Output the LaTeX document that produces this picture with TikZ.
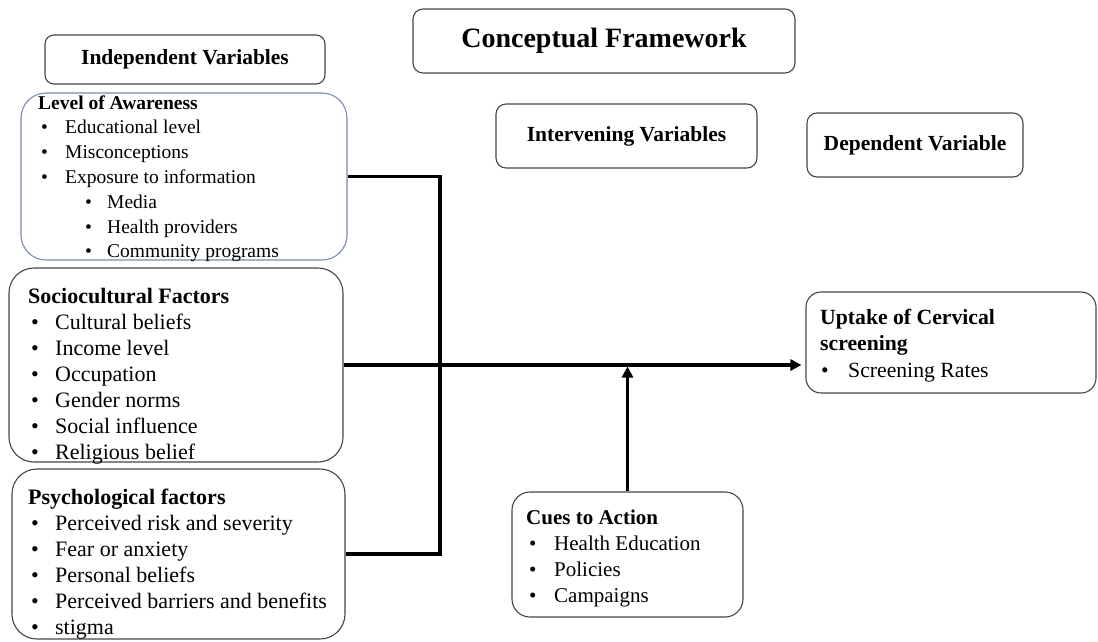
\documentclass[tikz,border=0pt]{standalone}
\usepackage{fontspec}
\setmainfont{Liberation Serif}
\usetikzlibrary{arrows.meta}
\definecolor{boxline}{RGB}{70,70,70}
\definecolor{blueline}{RGB}{120,140,172}
\newcommand{\bul}[2]{\hspace*{#1}\makebox[#2][l]{\textbullet}}
\begin{document}
\begin{tikzpicture}[x=1pt,y=-1pt,
  box/.style={draw=boxline, line width=1.1pt, inner sep=0pt},
  hd/.style={font=\fontsize{21.5}{26}\selectfont\bfseries},
  conn/.style={line width=3.5pt},
  tip/.style={-{Triangle[length=11pt,width=11pt]}},
  lst/.style={anchor=base west, inner sep=0pt}]
\useasboundingbox (0,0) rectangle (1098,641);
\fill[white] (0,0) rectangle (1098,641);

% header boxes
\node[box, rounded corners=10pt, minimum width=382pt, minimum height=64pt,
      font=\fontsize{28}{32}\selectfont\bfseries] (cf) at (604,41) {Conceptual Framework};
\node[box, hd, rounded corners=9pt, minimum width=280pt, minimum height=49pt] (iv) at (185,59.5) {Independent Variables};
\node[box, hd, rounded corners=10pt, minimum width=261pt, minimum height=64pt] (inv) at (626.5,136) {Intervening Variables};
\node[box, hd, rounded corners=10pt, minimum width=216pt, minimum height=64pt] (dv) at (915,145) {Dependent Variable};

% content boxes
\node[box, draw=blueline, rounded corners=25pt, minimum width=326pt, minimum height=167pt] (lev) at (184,176.5) {};
\node[box, rounded corners=25pt, minimum width=334pt, minimum height=194pt] (soc) at (176,365) {};
\node[box, rounded corners=25pt, minimum width=333pt, minimum height=170pt] (psy) at (178.5,554) {};
\node[box, rounded corners=15pt, minimum width=290pt, minimum height=101pt] (upt) at (951,342.5) {};
\node[box, rounded corners=18pt, minimum width=231pt, minimum height=125pt] (cue) at (627.5,554.5) {};

% texts
\node[lst] (levt) at (38,109) {\fontsize{19.5}{24.8}\selectfont\begin{tabular}[t]{@{}l@{}}
\textbf{Level of Awareness}\\
\bul{3pt}{24pt}Educational level\\
\bul{3pt}{24pt}Misconceptions\\
\bul{3pt}{24pt}Exposure to information\\
\bul{47pt}{22pt}Media\\
\bul{47pt}{22pt}Health providers\\
\bul{47pt}{22pt}Community programs
\end{tabular}};

\node[lst] (soct) at (28,303) {\fontsize{22}{26}\selectfont\begin{tabular}[t]{@{}l@{}}
\textbf{Sociocultural Factors}\\
\bul{3pt}{24pt}Cultural beliefs\\
\bul{3pt}{24pt}Income level\\
\bul{3pt}{24pt}Occupation\\
\bul{3pt}{24pt}Gender norms\\
\bul{3pt}{24pt}Social influence\\
\bul{3pt}{24pt}Religious belief
\end{tabular}};

\node[lst] (psyt) at (28,504) {\fontsize{22}{26}\selectfont\begin{tabular}[t]{@{}l@{}}
\textbf{Psychological factors}\\
\bul{3pt}{24pt}Perceived risk and severity\\
\bul{3pt}{24pt}Fear or anxiety\\
\bul{3pt}{24pt}Personal beliefs\\
\bul{3pt}{24pt}Perceived barriers and benefits\\
\bul{3pt}{24pt}stigma
\end{tabular}};

\node[lst] (uptt) at (820,324) {\fontsize{21.7}{26.5}\selectfont\begin{tabular}[t]{@{}l@{}}
\textbf{Uptake of Cervical}\\
\textbf{screening}\\
\bul{1pt}{27pt}Screening Rates
\end{tabular}};

\node[lst] (cuet) at (526,524) {\fontsize{21}{26}\selectfont\begin{tabular}[t]{@{}l@{}}
\textbf{Cues to Action}\\
\bul{3pt}{25pt}Health Education\\
\bul{3pt}{25pt}Policies\\
\bul{3pt}{25pt}Campaigns
\end{tabular}};

% connectors
\coordinate (bus) at (440,365);
\draw[conn] (lev.east) -| (bus) |- (psy.east);
\draw[conn, tip, shorten >=4pt] (soc.east) -- (soc.east -| upt.west);
\draw[conn, tip, shorten >=1.5pt] (cue.north) -- (cue.north |- soc.east);
\end{tikzpicture}
\end{document}
